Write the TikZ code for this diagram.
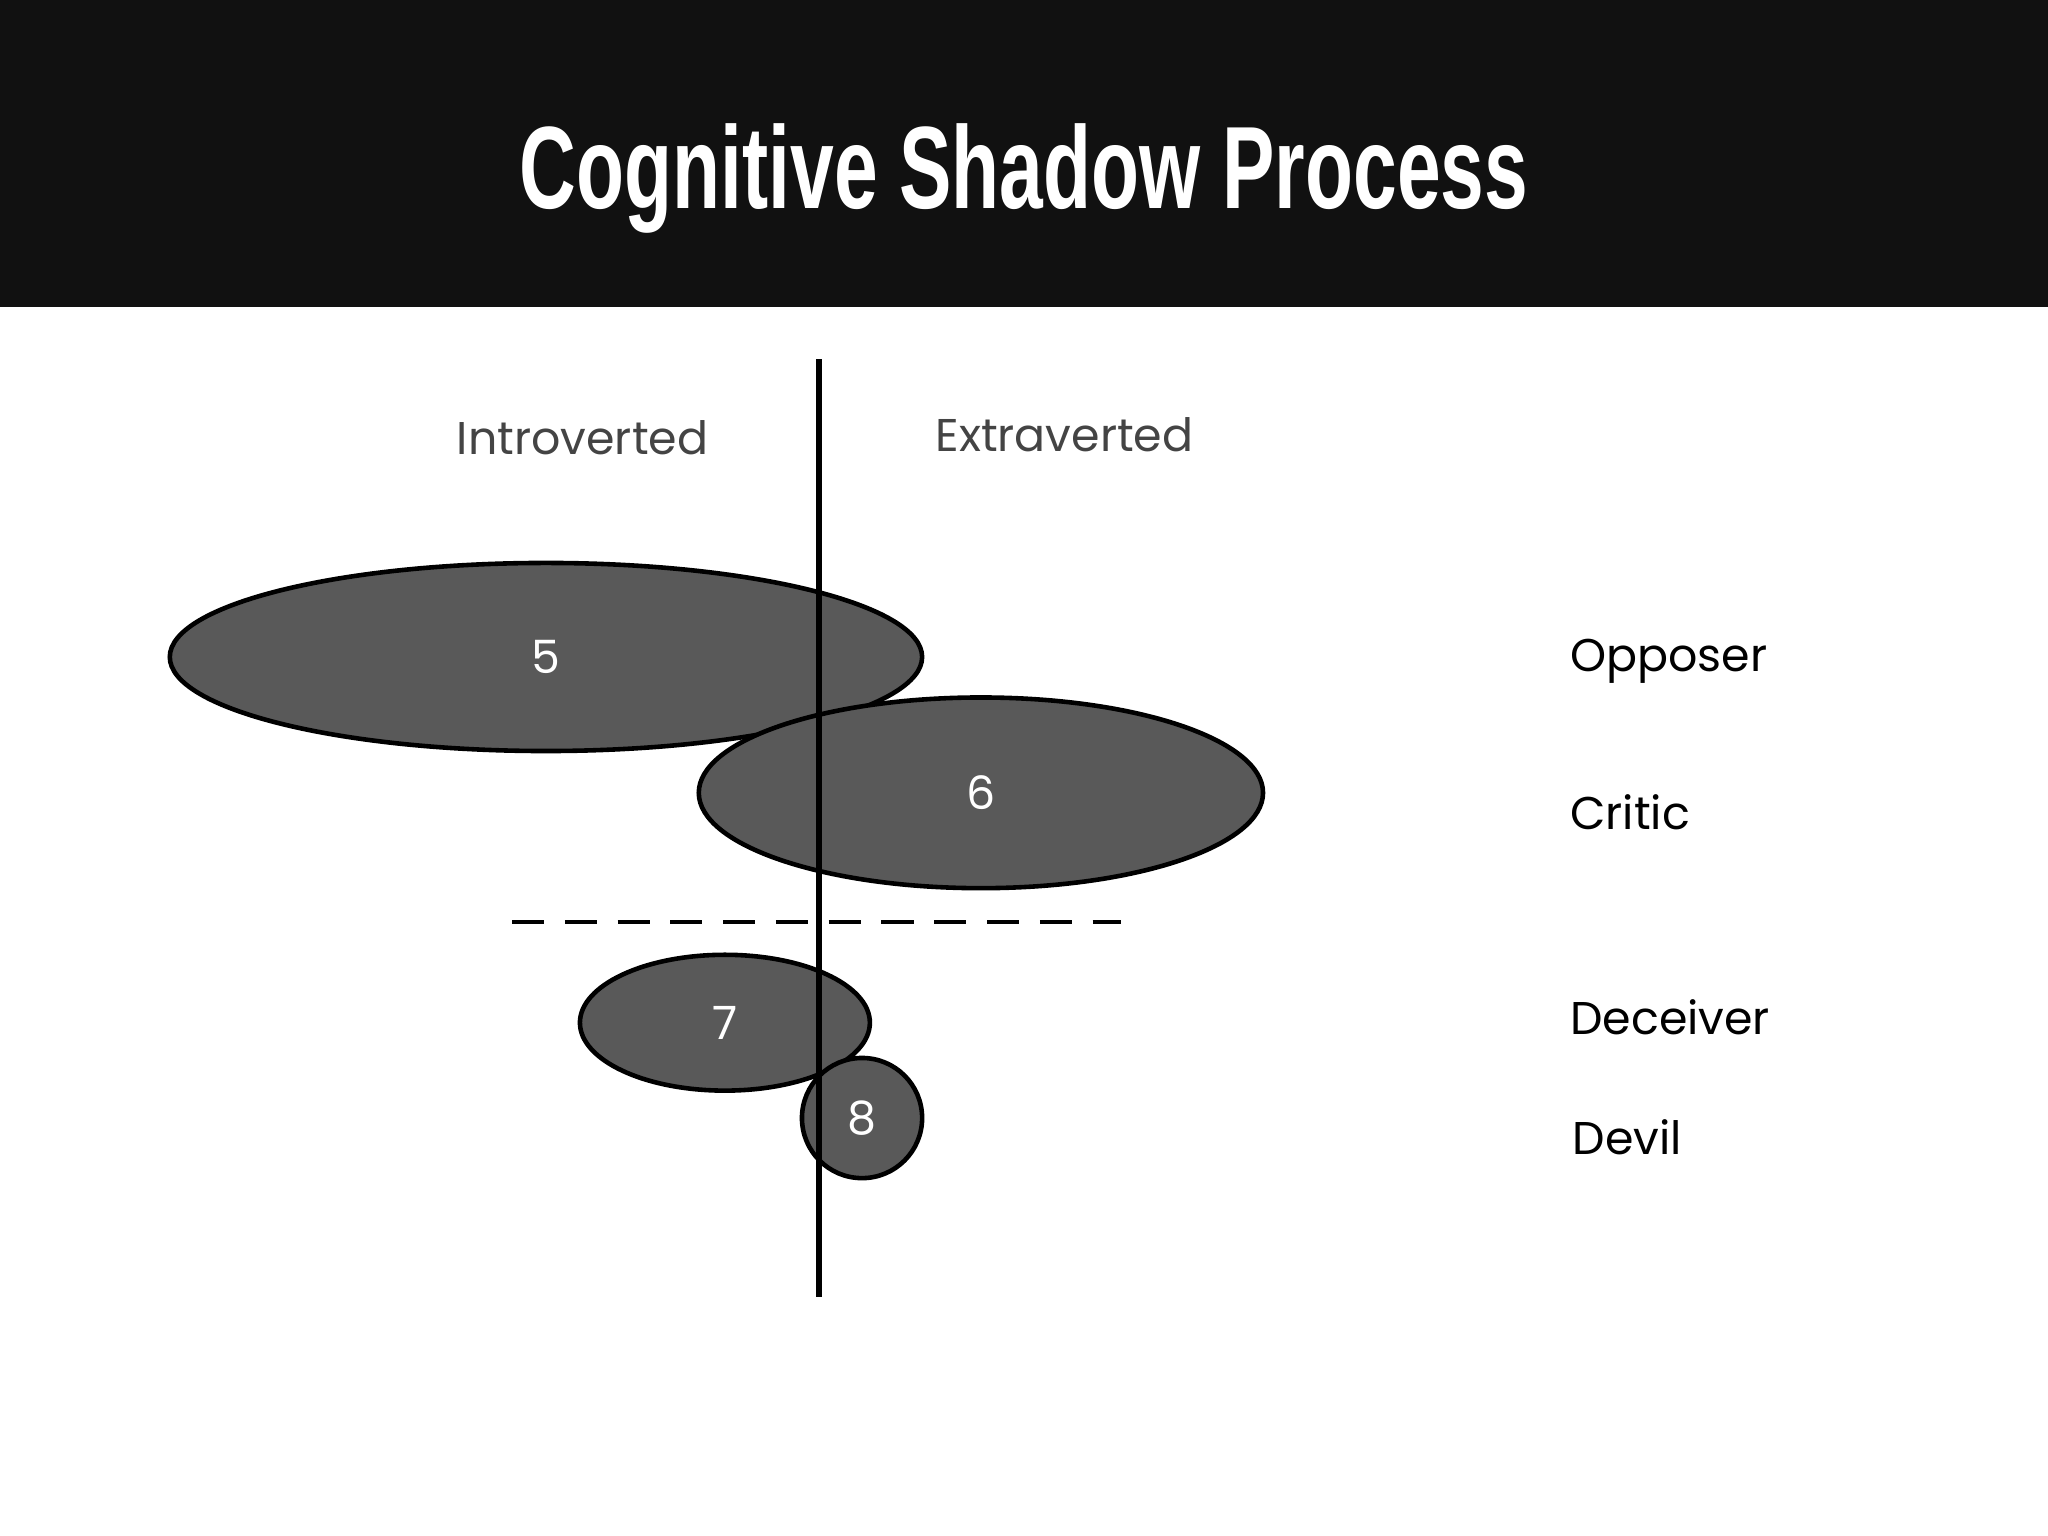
\documentclass[tikz,border=0pt]{standalone}
\usepackage{fontspec}
\usetikzlibrary{shapes.geometric}
\setmainfont{Poppins}
\newfontfamily\titlefont{Liberation Sans}
\begin{document}
\begin{tikzpicture}[x=0.02cm,y=-0.02cm,
  blob/.style={draw=black,line width=2pt,fill=shade},
  num/.style={text=white,font=\fontsize{20}{24}\selectfont},
  role/.style={anchor=west,text=black,font=\fontsize{20}{24}\selectfont},
  side/.style={text=textgray,font=\fontsize{20}{24}\selectfont}]
\definecolor{shade}{HTML}{595959}
\definecolor{textgray}{HTML}{444444}
\definecolor{hdr}{HTML}{111111}
\useasboundingbox (0,0) rectangle (1568,1176);
\fill[hdr] (0,0) rectangle (1568,235);
\node[anchor=base,text=white,inner sep=0] (title) at (784,160)
  {\resizebox{15.44cm}{1.3cm}{\titlefont\bfseries Cognitive Shadow Process}};
\node[side] (intro) at (446,335) {Introverted};
\node[side] (extra) at (815,333) {Extraverted};
\node[blob,ellipse,minimum width=576*0.02cm,minimum height=144*0.02cm,inner sep=0] (e5) at (418,503) {};
\node[blob,ellipse,minimum width=432*0.02cm,minimum height=146*0.02cm,inner sep=0] (e6) at (751,607) {};
\node[blob,ellipse,minimum width=222*0.02cm,minimum height=104*0.02cm,inner sep=0] (e7) at (555,783) {};
\node[blob,circle,minimum size=92*0.02cm,inner sep=0] (e8) at (660,856) {};
\node[num] at (e5) {5};
\node[num] at (e6) {6};
\node[num] at (e7) {7};
\node[num] at (e8) {8};
\coordinate (d1) at (392,706); \coordinate (d2) at (858,706);
\draw[line width=2pt,dash pattern=on 14pt off 9pt] (d1) -- (d2);
\coordinate (v1) at (627,275); \coordinate (v2) at (627,993);
\draw[line width=2.3pt] (v1) -- (v2);
\node[role] (r1) at (1196,506) {Opposer};
\node[role] (r2) at (1196,622) {Critic};
\node[role] (r3) at (1196,779) {Deceiver};
\node[role] (r4) at (1198,871) {Devil};
\end{tikzpicture}
\end{document}
